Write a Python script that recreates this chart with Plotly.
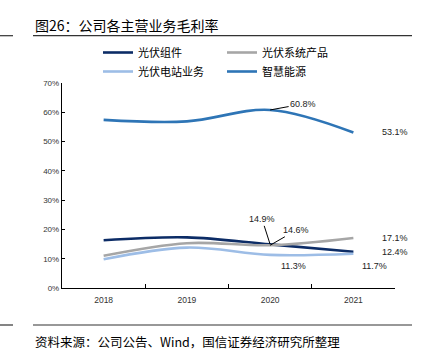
import plotly.graph_objects as go

years = ["2018", "2019", "2020", "2021"]
module = [16.3, 17.3, 14.9, 12.4]        # 光伏组件
system = [11.0, 15.3, 14.6, 17.1]        # 光伏系统产品
station = [9.8, 13.8, 11.3, 11.7]        # 光伏电站业务
smart = [57.4, 56.9, 60.8, 53.1]         # 智慧能源
yticks = [0, 10, 20, 30, 40, 50, 60, 70]
ytick_text = [f"{v}%" for v in yticks]

W, H = 427, 356
L, R, T, B = 62, 32, 83, 68
pw, ph = W - L - R, H - T - B


def px(x):
    return (x - L) / pw


def py(y):
    return (H - B - y) / ph


colors = {"module": "#0C2C66", "system": "#A6A6A6", "station": "#9DBDE6", "smart": "#2E75B6"}
fig = go.Figure()
series = [
    ("光伏组件", module, colors["module"], "legend"),
    ("光伏系统产品", system, colors["system"], "legend2"),
    ("光伏电站业务", station, colors["station"], "legend"),
    ("智慧能源", smart, colors["smart"], "legend2"),
]
for name, vals, col, lg in series:
    fig.add_trace(go.Scatter(
        x=years, y=vals, name=name, mode="lines",
        line=dict(color=col, width=2.6, shape="spline", smoothing=1.0),
        legend=lg, hoverinfo="skip",
    ))

lblfont = dict(family="Liberation Sans, Arial", size=9, color="#222222")
# end labels
for vals, idx, xs, ys in [
    (smart, 3, 27, 0),
    (system, 3, 27, 0),
    (module, 3, 27, 0),
    (station, 3, 7, -12),
    (station, 2, 9, -11),
]:
    fig.add_annotation(x=idx, y=vals[idx], xref="x", yref="y", text=f"{vals[idx]:.1f}%",
                       showarrow=False, xshift=xs, yshift=ys, xanchor="left",
                       font=lblfont)
# labels with leader lines
for vals, idx, ax, ay in [
    (smart, 2, 33, -6),
    (module, 2, -8, -25),
    (system, 2, 26, -15),
]:
    fig.add_annotation(x=idx, y=vals[idx], xref="x", yref="y", text=f"{vals[idx]:.1f}%",
                       showarrow=True, arrowhead=0, arrowwidth=1, arrowcolor="#000000",
                       ax=ax, ay=ay, standoff=0, font=lblfont)

# title and source
fig.add_annotation(x=px(33), y=py(25), xref="paper", yref="paper", xanchor="left",
                   yanchor="middle", showarrow=False, text="图26：公司各主营业务毛利率",
                   font=dict(family="Noto Sans CJK SC", size=14, color="#000000"))
fig.add_annotation(x=px(33), y=py(341), xref="paper", yref="paper", xanchor="left",
                   yanchor="middle", showarrow=False,
                   text="资料来源：公司公告、Wind，国信证券经济研究所整理",
                   font=dict(family="Noto Sans CJK SC", size=12.5, color="#000000"))
for yy in (35.7, 325):
    fig.add_shape(type="line", xref="paper", yref="paper", x0=px(33), x1=px(412),
                  y0=py(yy), y1=py(yy), line=dict(color="#333333", width=1.2))
    fig.add_shape(type="line", xref="paper", yref="paper", x0=px(0), x1=px(13),
                  y0=py(yy), y1=py(yy), line=dict(color="#333333", width=1.2))

legfont = dict(family="Noto Sans CJK SC", size=11, color="#000000")
fig.update_layout(
    width=W, height=H,
    margin=dict(l=L, r=R, t=T, b=B, autoexpand=False),
    paper_bgcolor="white", plot_bgcolor="white",
    showlegend=True, hovermode=False,
    legend=dict(x=px(98), y=py(38),
                xanchor="left", yanchor="top", orientation="v", font=legfont,
                bgcolor="rgba(0,0,0,0)", tracegroupgap=0, itemwidth=30),
    legend2=dict(x=px(222), y=py(38),
                 xanchor="left", yanchor="top", orientation="v", font=legfont,
                 bgcolor="rgba(0,0,0,0)", tracegroupgap=0, itemwidth=30),
    xaxis=dict(type="category", range=[-0.5, 3.5], showgrid=False, showline=True,
               linecolor="#000000", linewidth=1.2, ticks="inside", ticklen=4,
               tickcolor="#000000", tickson="boundaries", tickangle=0,
               ticklabelstandoff=4,
               tickfont=dict(family="Liberation Sans, Arial", size=8.5, color="#333333")),
    yaxis=dict(range=[0, 70], tickvals=yticks, ticktext=ytick_text, showgrid=False,
               showline=True, linecolor="#000000", linewidth=1.2, ticks="inside",
               ticklen=3, tickcolor="#000000", zeroline=False,
               tickfont=dict(family="Liberation Sans, Arial", size=8, color="#333333")),
)

fig.write_html("out.html", config={"displayModeBar": False, "staticPlot": True},
               post_script="document.body.style.margin='0';")
